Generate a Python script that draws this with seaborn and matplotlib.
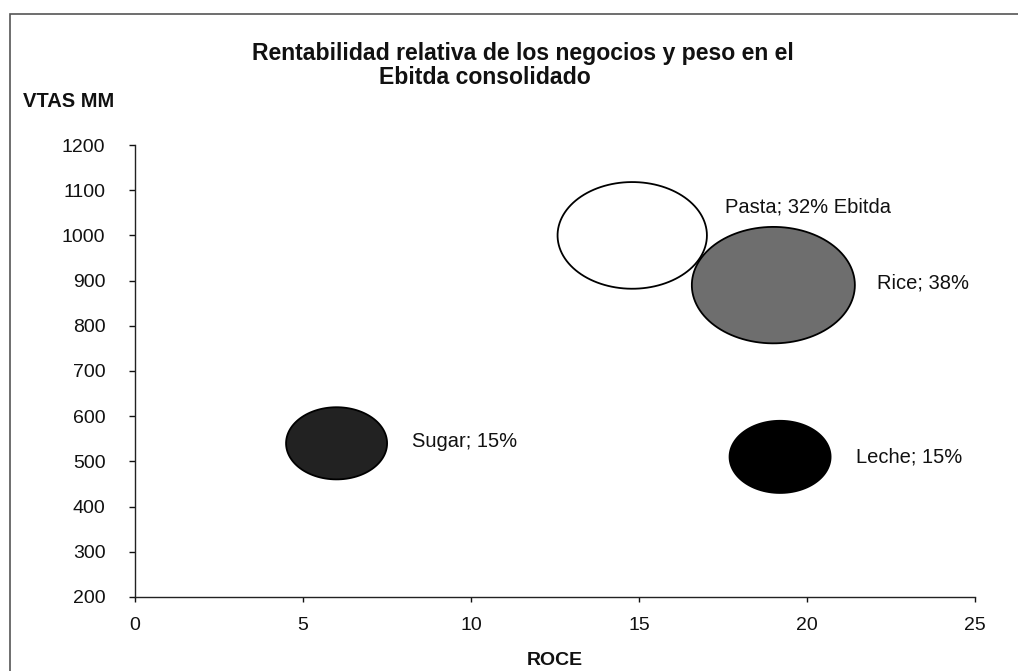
import numpy as np
import pandas as pd
import matplotlib
matplotlib.use("Agg")
import matplotlib.pyplot as plt
from matplotlib.path import Path
from matplotlib.patches import Rectangle
import seaborn as sns

# ---- data ----
negocios = ["Pasta", "Rice", "Sugar", "Leche"]
roce = [14.8, 19.0, 6.0, 19.2]
ventas = [1000, 890, 540, 510]
ebitda = [32, 38, 15, 15]
etiquetas = ["Pasta; 32% Ebitda", "Rice; 38%", "Sugar; 15%", "Leche; 15%"]
x_ticks = [0, 5, 10, 15, 20, 25]
y_ticks = [200, 300, 400, 500, 600, 700, 800, 900, 1000, 1100, 1200]

df = pd.DataFrame({"negocio": negocios, "roce": roce, "ventas": ventas, "ebitda": ebitda})

sns.set_theme(style="white")
plt.rcParams["font.family"] = ["Liberation Sans", "DejaVu Sans"]

fig = plt.figure(figsize=(10.18, 6.71), dpi=100)
ax = fig.add_axes([0.1326, 0.1103, 0.8251, 0.6736])

# ellipse marker (wider than tall)
t = np.linspace(0, 2 * np.pi, 120)
ell = Path(np.column_stack([1.4 * np.cos(t), np.sin(t)]), closed=True)

palette = {"Pasta": "#ffffff", "Rice": "#6e6e6e", "Sugar": "#222222", "Leche": "#000000"}
sns.scatterplot(data=df, x="roce", y="ventas", hue="negocio", palette=palette,
                size="ebitda", sizes=(5290, 13780), size_norm=(15, 38),
                marker=ell, edgecolor="black", linewidth=1.3, legend=False,
                ax=ax, zorder=3, clip_on=False)

offsets = [(67, 20.5), (74.5, 1.5), (54, 1), (55, 0)]
for xi, yi, lab, off in zip(roce, ventas, etiquetas, offsets):
    ax.annotate(lab, (xi, yi), xytext=off, textcoords="offset points",
                fontsize=14.5, va="center", ha="left", color="#111111")

ax.set_xlim(0, 25)
ax.set_ylim(200, 1200)
ax.set_xticks(x_ticks)
ax.set_yticks(y_ticks)
ax.tick_params(axis="x", labelsize=14, colors="#111111", length=3.6, width=1,
               direction="out", bottom=True, pad=11)
ax.tick_params(axis="y", labelsize=14, colors="#111111", length=4.3, width=1,
               direction="out", left=True, pad=17)
for s in ["top", "right"]:
    ax.spines[s].set_visible(False)
for s in ["left", "bottom"]:
    ax.spines[s].set_color("#222222")
    ax.spines[s].set_linewidth(1)

ax.set_xlabel("ROCE", fontsize=14, fontweight="bold", labelpad=13, color="#111111")
ax.set_ylabel("")
fig.text(0.0226, 0.848, "VTAS MM", fontsize=14.5, fontweight="bold", ha="left",
         va="center", color="#111111")
fig.text(0.514, 0.921, "Rentabilidad relativa de los negocios y peso en el",
         fontsize=16.6, fontweight="bold", ha="center", va="center", color="#111111")
fig.text(0.476, 0.885, "Ebitda consolidado",
         fontsize=16.6, fontweight="bold", ha="center", va="center", color="#111111")

# outer chart frame
fig.patches.append(Rectangle((10 / 1018, -0.05), 1.1, 1.05 + (671 - 14) / 671 - 1.0,
                             transform=fig.transFigure, fill=False,
                             edgecolor="#555555", linewidth=1.2))

fig.savefig("out.png", dpi=100)
